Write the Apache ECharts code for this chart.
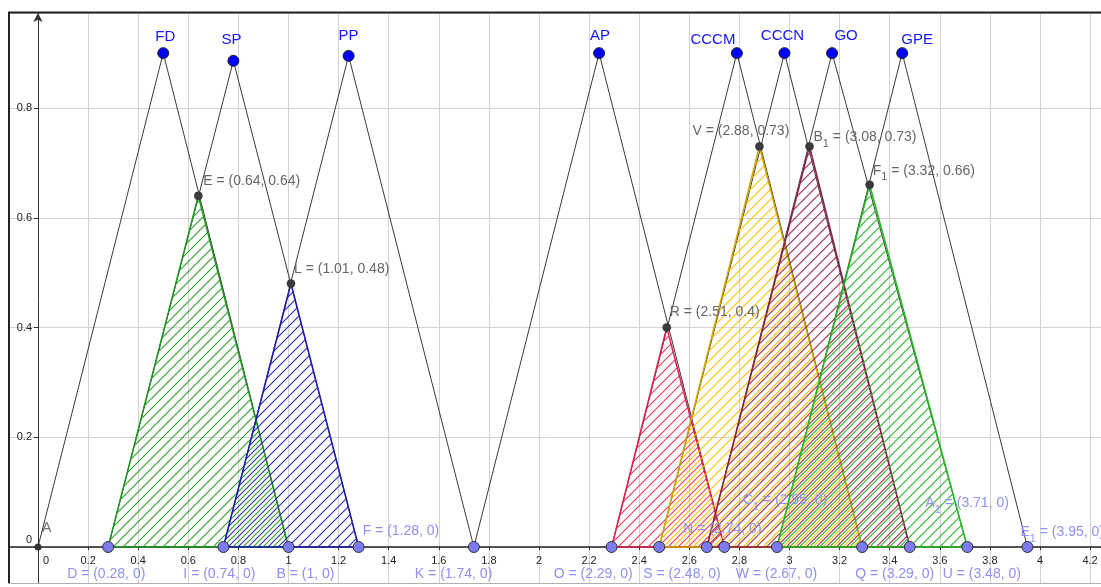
<!DOCTYPE html>
<html lang="en">
<head>
<meta charset="UTF-8">
<style>
    html, body { height: 100%; margin: 0; background: #fff; }
    #chart { width: 1101px; height: 587px; }
</style>
</head>
<body>
<div id="chart"></div>
<script src="https://cdn.jsdelivr.net/npm/echarts@6.0.0/dist/echarts.min.js"></script>
<script>
// triangles (peak point + two feet)
var peakNames = ['FD', 'SP', 'PP', 'AP', 'CCCM', 'CCCN', 'GO', 'GPE'];
var peakX = [0.5, 0.78, 1.24, 2.24, 2.79, 2.98, 3.17, 3.45];
var peakY = [0.9, 0.886, 0.895, 0.9, 0.9, 0.9, 0.9, 0.9];
var baseLeft = [0, 0.28, 0.74, 1.74, 2.29, 2.48, 2.67, 2.95];
var baseRight = [1, 1.28, 1.74, 2.74, 3.29, 3.48, 3.71, 3.95];

// crossing points, each is the top of one hatched triangle
var crossNames = ['E', 'L', 'R', 'V', 'B1', 'F1'];
var crossX = [0.64, 1.01, 2.51, 2.88, 3.08, 3.32];
var crossY = [0.64, 0.48, 0.4, 0.73, 0.73, 0.66];
var shadeLeft = [0.28, 0.74, 2.29, 2.48, 2.67, 2.95];
var shadeRight = [1, 1.28, 2.74, 3.29, 3.48, 3.71];

// named points on the x axis
var footNames = ['D', 'I', 'B', 'F', 'K', 'O', 'S', 'N', 'W', 'C1', 'Q', 'U', 'A1', 'E1'];
var footX = [0.28, 0.74, 1, 1.28, 1.74, 2.29, 2.48, 2.74, 2.67, 2.95, 3.29, 3.48, 3.71, 3.95];

// label placement (px from the point: left, top)
var footOffset = {
    D: [-41, 20], I: [-40, 20], B: [-12, 20], F: [4, -23], K: [-59, 20], O: [-58, 20],
    S: [-16, 20], N: [-41, -25], W: [29, 20], C1: [-34, -54], Q: [-7, 20], U: [33, 20],
    A1: [-42, -51], E1: [-7, -22]
};
var crossOffset = { E: [5, -22], L: [3, -21], R: [3, -22], V: [-67, -22], B1: [4, -16], F1: [3, -21] };
var peakOffset = {
    FD: [2, -16], SP: [-2, -21], PP: [0, -20], AP: [1, -17],
    CCCM: [-24, -13], CCCN: [-2, -17], GO: [14, -17], GPE: [15, -13]
};

var shadeStroke = ['#1f961f', '#1c1cae', '#e0204e', '#d0a400', '#8e1f42', '#22b922'];
var shadeHatch = ['#2ca22c', '#2626b4', '#e8365e', '#ffc000', '#a02c50', '#35bd35'];
// shift of each hatch inside its 10px tile, so overlapping hatches interleave
var hatchShift = [0, 5, 5, 0, 3.3, 6.6];

var FONT = '"Liberation Sans", Arial, sans-serif';

// px per unit, used to park the axes on the zero lines
var PX_X = 250.5, PX_Y = 548.75;

function hatch(color, s) {
    var c = document.createElement('canvas');
    c.width = 10; c.height = 10;
    var g = c.getContext('2d');
    g.strokeStyle = color;
    g.lineWidth = 1.1;
    g.beginPath();
    for (var k = -1; k <= 2; k++) {
        var d = s + 10 * k;           // line x + y = d
        g.moveTo(d + 5, -5);
        g.lineTo(d - 15, 15);
    }
    g.stroke();
    return { image: c, repeat: 'repeat' };
}
var patterns = shadeHatch.map(function (c, i) { return hatch(c, hatchShift[i]); });

function richText(name, rest) {
    var m = name.match(/^([A-Z]+)(\d)$/);
    if (m) return '{n|' + m[1] + '}{s|' + m[2] + '}{n|' + rest + '}';
    return '{n|' + name + rest + '}';
}
function richStyle(color) {
    return {
        n: { fontFamily: FONT, fontSize: 14, lineHeight: 16, verticalAlign: 'top', color: color },
        s: { fontFamily: FONT, fontSize: 11, lineHeight: 11, padding: [8, 0, 0, 0], verticalAlign: 'top', color: color }
    };
}

// only the 0.2 steps get a tick label; zero is nudged off the axes
function tickLabel(v) {
    var k = Math.round(v / 0.2);
    if (Math.abs(v - k * 0.2) > 1e-6) return '';
    return k === 0 ? '{z|0}' : String(v);
}

var series = [];

peakNames.forEach(function (n, i) {
    series.push({
        type: 'line', z: 1, symbol: 'none', silent: true,
        lineStyle: { color: '#3a3a3a', width: 1 },
        data: [[baseLeft[i], 0], [peakX[i], peakY[i]], [baseRight[i], 0]]
    });
});

series.push({
    type: 'custom', z: 2, silent: true,
    data: crossX.map(function (x, i) { return [shadeLeft[i], x, crossY[i], shadeRight[i], i]; }),
    renderItem: function (params, api) {
        var i = api.value(4);
        var p0 = api.coord([api.value(0), 0]);
        var p1 = api.coord([api.value(1), api.value(2)]);
        var p2 = api.coord([api.value(3), 0]);
        return {
            type: 'polygon',
            shape: { points: [p0, p1, p2] },
            style: { fill: patterns[i], stroke: shadeStroke[i], lineWidth: 1.5 }
        };
    }
});

// feet
series.push({
    type: 'scatter', z: 5, symbolSize: 11,
    itemStyle: { color: '#7c7cf0', borderColor: '#333', borderWidth: 1, opacity: 1 },
    data: footNames.map(function (n, i) {
        return {
            value: [footX[i], 0],
            label: {
                show: true, position: 'inside', align: 'left', verticalAlign: 'top',
                offset: footOffset[n],
                formatter: richText(n, ' = (' + footX[i] + ', 0)'),
                rich: richStyle('#8f8ff5')
            }
        };
    })
});

// origin A
series.push({
    type: 'scatter', z: 5, symbolSize: 7,
    itemStyle: { color: '#333', opacity: 1 },
    data: [{
        value: [0, 0],
        label: {
            show: true, position: 'inside', align: 'left', verticalAlign: 'top', offset: [4, -26],
            formatter: '{n|A}', rich: richStyle('#707070')
        }
    }]
});

// crossings
series.push({
    type: 'scatter', z: 5, symbolSize: 8,
    itemStyle: { color: '#3c3c3c', borderColor: '#222', borderWidth: 0.5, opacity: 1 },
    data: crossNames.map(function (n, i) {
        return {
            value: [crossX[i], crossY[i]],
            label: {
                show: true, position: 'inside', align: 'left', verticalAlign: 'top',
                offset: crossOffset[n],
                formatter: richText(n, ' = (' + crossX[i] + ', ' + crossY[i] + ')'),
                rich: richStyle('#666')
            }
        };
    })
});

// peaks
series.push({
    type: 'scatter', z: 5, symbolSize: 11,
    itemStyle: { color: '#0000ff', borderColor: '#222', borderWidth: 1, opacity: 1 },
    data: peakNames.map(function (n, i) {
        return {
            value: [peakX[i], peakY[i]],
            label: {
                show: true, position: 'inside', align: 'center', verticalAlign: 'middle',
                offset: peakOffset[n], formatter: n,
                color: '#1414ff', fontFamily: FONT, fontSize: 15
            }
        };
    })
});

var chart = echarts.init(document.getElementById('chart'));
chart.setOption({
    animation: false,
    backgroundColor: '#fff',
    grid: { left: -12.1, right: -1.6, top: 13, bottom: -69.75, outerBoundsMode: 'none' },
    xAxis: {
        type: 'value', min: -0.2, max: 4.25, interval: 0.2,
        position: 'bottom', offset: -0.2 * PX_Y,
        axisLine: { onZero: false, lineStyle: { color: '#222', width: 1.5 } },
        axisTick: { show: true, length: 3, lineStyle: { color: '#333' } },
        axisLabel: {
            margin: 8, color: '#222', fontFamily: FONT, fontSize: 11,
            formatter: tickLabel,
            rich: { z: { padding: [0, 0, 0, 16], fontSize: 11, fontFamily: FONT, color: '#222' } }
        },
        splitLine: { show: true, lineStyle: { color: '#d3d3d3', width: 1 } }
    },
    yAxis: {
        type: 'value', min: -0.2, max: 534 / PX_Y, interval: 0.2,
        position: 'left', offset: -0.2 * PX_X,
        axisLine: { onZero: false, symbol: ['none', 'arrow'], symbolSize: [7, 9], lineStyle: { color: '#333', width: 1 } },
        axisTick: { show: true, length: 4, lineStyle: { color: '#333' } },
        axisLabel: {
            margin: 6, color: '#222', fontFamily: FONT, fontSize: 11, showMaxLabel: false,
            formatter: tickLabel,
            rich: { z: { padding: [0, 0, 14, 0], fontSize: 11, fontFamily: FONT, color: '#222' } }
        },
        splitLine: { show: true, lineStyle: { color: '#d3d3d3', width: 1 } }
    },
    graphic: [
        { type: 'rect', z: 100, silent: true, shape: { x: 0, y: 0, width: 1101, height: 12 }, style: { fill: '#fff' } },
        { type: 'rect', z: 100, silent: true, shape: { x: 0, y: 0, width: 8, height: 587 }, style: { fill: '#fff' } },
        { type: 'rect', z: 100, silent: true, shape: { x: 0, y: 584, width: 1101, height: 3 }, style: { fill: '#fff' } },
        { type: 'line', z: 101, silent: true, shape: { x1: 8, y1: 12.5, x2: 1101, y2: 12.5 }, style: { stroke: '#222', lineWidth: 2 } },
        { type: 'line', z: 101, silent: true, shape: { x1: 9, y1: 12, x2: 9, y2: 584 }, style: { stroke: '#222', lineWidth: 2 } },
        { type: 'line', z: 101, silent: true, shape: { x1: 8, y1: 583.5, x2: 1101, y2: 583.5 }, style: { stroke: '#b0b0b0', lineWidth: 1 } }
    ],
    series: series
});
</script>
</body>
</html>
